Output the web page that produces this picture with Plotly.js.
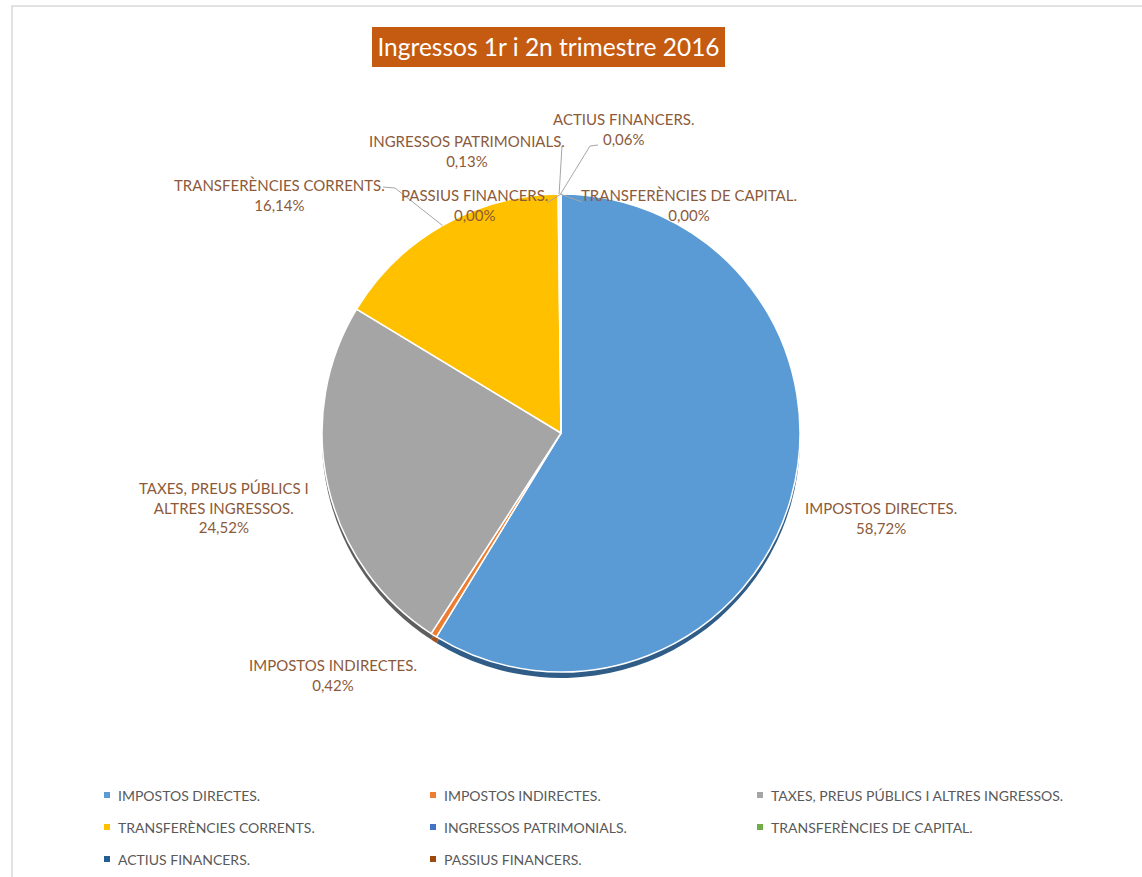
<!DOCTYPE html>
<html>
<head>
<meta charset="utf-8">
<script src="https://cdn.plot.ly/plotly-3.0.1.min.js"></script>
<style>html,body{margin:0;padding:0;background:#fff;}#chart{width:1142px;height:877px;}</style>
</head>
<body>
<div id="chart"></div>
<script>
// ---- data ----
const categories = [
  "IMPOSTOS DIRECTES.",
  "IMPOSTOS INDIRECTES.",
  "TAXES, PREUS PÚBLICS I ALTRES INGRESSOS.",
  "TRANSFERÈNCIES CORRENTS.",
  "INGRESSOS PATRIMONIALS.",
  "TRANSFERÈNCIES DE CAPITAL.",
  "ACTIUS FINANCERS.",
  "PASSIUS FINANCERS."
];
const percentages = [58.72, 0.42, 24.52, 16.14, 0.13, 0.00, 0.06, 0.00];
const sliceLabels = [
  "IMPOSTOS DIRECTES.",
  "IMPOSTOS INDIRECTES.",
  "TAXES, PREUS PÚBLICS I<br>ALTRES INGRESSOS.",
  "TRANSFERÈNCIES CORRENTS.",
  "INGRESSOS PATRIMONIALS.",
  "TRANSFERÈNCIES DE CAPITAL.",
  "ACTIUS FINANCERS.",
  "PASSIUS FINANCERS."
];
const colors = ["#5B9BD5","#ED7D31","#A5A5A5","#FFC000","#4472C4","#70AD47","#255E91","#9E480E"];
const rimColors = ["#2F5D87","#A3521B","#5E5E5E","#A87E00","#2B4C85","#4A7530","#173B5C","#6A2F09"];
const chartTitle = "Ingressos 1r i 2n trimestre 2016";

// ---- layout helpers (pixels -> paper) ----
const W = 1142, H = 877;
const px = x => x / W;
const py = y => 1 - y / H;
const CX = 561, CY = 433, R = 239;

// label positions (centre of text block) and leader anchor points
const labelPos = [
  {x: 881, y: 518, line: null},
  {x: 333, y: 675, line: null},
  {x: 224, y: 507, line: null},
  {x: 279, y: 195, line: [[383,187],[395,188]]},
  {x: 467, y: 151, line: [[562,146]]},
  {x: 689, y: 205, line: [[582,202]]},
  {x: 623, y: 129, line: [[598,145],[590,146]]},
  {x: 474, y: 205, line: [[547,203]]}
];

const fmt = v => v.toFixed(2).replace(".", ",") + "%";

// slice mid-angle edge points computed from the data
const total = percentages.reduce((a,b)=>a+b,0);
let cum = 0;
const edgePts = percentages.map(v => {
  const mid = (cum + v/2) / total;
  cum += v;
  const a = mid * 2 * Math.PI;
  return [CX + R*Math.sin(a), CY - R*Math.cos(a)];
});

const annotations = [];
const shapes = [];

// chart border
shapes.push({type:"path", xref:"paper", yref:"paper", layer:"below",
  path:`M ${px(12)} ${py(H+5)} L ${px(12)} ${py(6)} L ${px(W+5)} ${py(6)}`,
  line:{color:"#D9D9D9", width:1.5}});

// title box
shapes.push({type:"rect", xref:"paper", yref:"paper", layer:"below",
  x0:px(372), x1:px(725), y0:py(67), y1:py(27), fillcolor:"#C55A11", line:{width:0}});

categories.forEach((c,i) => {
  const p = labelPos[i];
  annotations.push({
    xref:"paper", yref:"paper", x:px(p.x), y:py(p.y), xanchor:"center", yanchor:"middle",
    showarrow:false, align:"center",
    text: sliceLabels[i] + "<br>" + fmt(percentages[i]),
    font:{family:"Lato, 'Open Sans', sans-serif", size:15, color:"#8C5A3A"}
  });
  if (p.line) {
    const pts = p.line.concat([edgePts[i]]);
    const path = pts.map((q,k)=>(k?"L ":"M ")+px(q[0])+" "+py(q[1])).join(" ");
    shapes.push({type:"path", xref:"paper", yref:"paper", path:path,
      line:{color:"#A6A6A6", width:1}});
  }
});

// legend (3 columns)
const legCols = [107, 433, 760];
const legRows = [795, 827, 859];
categories.forEach((c,i) => {
  const lx = legCols[i % 3], ly = legRows[Math.floor(i/3)];
  shapes.push({type:"rect", xref:"paper", yref:"paper",
    x0:px(lx-3), x1:px(lx+3), y0:py(ly+3), y1:py(ly-3),
    fillcolor:colors[i], line:{width:0}});
  annotations.push({xref:"paper", yref:"paper", x:px(lx+9), y:py(ly), xanchor:"left", yanchor:"middle",
    showarrow:false, text:c,
    font:{family:"Lato, 'Open Sans', sans-serif", size:14, color:"#595959"}});
});

const dom = (dy) => ({
  x:[px(CX-R), px(CX+R)],
  y:[py(CY+R+dy), py(CY-R+dy)]
});

const rim = {
  type:"pie", values:percentages, labels:categories, sort:false, direction:"clockwise",
  rotation:0, textinfo:"none", hoverinfo:"skip", showlegend:false,
  marker:{colors:rimColors, line:{color:"rgba(0,0,0,0)", width:0}},
  domain: dom(6)
};
const pie = {
  type:"pie", values:percentages, labels:categories, sort:false, direction:"clockwise",
  rotation:0, textinfo:"none", showlegend:false,
  marker:{colors:colors, line:{color:"#FFFFFF", width:1.5}},
  domain: dom(0)
};

const layout = {
  width:W, height:H, margin:{l:0,r:0,t:0,b:0},
  paper_bgcolor:"#FFFFFF", plot_bgcolor:"#FFFFFF",
  showlegend:false,
  title:{text:chartTitle, x:px(548.5), y:py(47), xref:"paper", yref:"paper",
    xanchor:"center", yanchor:"middle",
    font:{family:"Lato, 'Open Sans', sans-serif", size:24.5, color:"#FFFFFF"}},
  annotations:annotations, shapes:shapes
};

Plotly.newPlot("chart", [rim, pie], layout, {displayModeBar:false, staticPlot:true});
</script>
</body>
</html>
